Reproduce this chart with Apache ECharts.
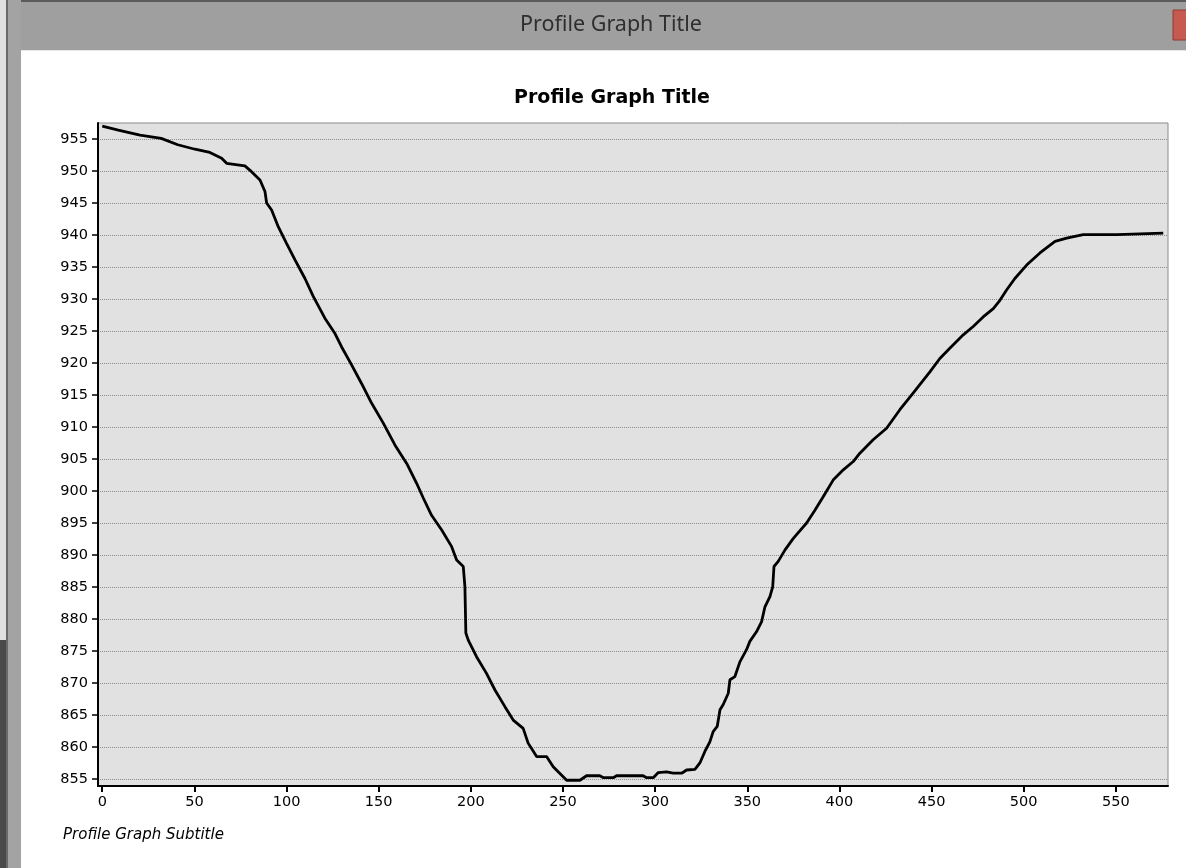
<!DOCTYPE html>
<html>
<head>
<meta charset="utf-8">
<title>Profile Graph Title</title>
<script src="https://cdn.jsdelivr.net/npm/echarts@6/dist/echarts.min.js"></script>
<style>
  html, body { margin: 0; padding: 0; background: #fff; }
  #chart { width: 1186px; height: 868px; }
</style>
</head>
<body>
<div id="chart"></div>
<script>
  // profile: distance along the line / elevation
  const distance = [
    0, 8.7, 20.5, 32, 41, 50.3, 58.4, 64.8, 67.5, 77.4, 81, 85.6, 88.3, 89.2, 91.9, 95.5,
    100, 104.6, 110, 114.5, 120.8, 126.3, 129.9, 135.3, 140.7, 146.2, 152.5, 158.8, 165.2,
    170.6, 174.2, 178.7, 184.2, 189.6, 192.3, 195.9, 196.8, 197.3, 198.6, 203.1, 208.5,
    213.1, 218.5, 223, 228.4, 231.1, 235.7, 241.1, 244.7, 252, 259.2, 262.8, 270, 272,
    277.3, 279.1, 293.5, 295.4, 299, 301.7, 306.2, 309.8, 314.4, 317.1, 321.6, 324.3, 327,
    329.7, 331.5, 333.7, 335.2, 336.9, 339.7, 340.6, 343.3, 346, 349.6, 351.4, 355, 357.8,
    359.6, 362.3, 363.8, 364.5, 366.8, 370.5, 375, 382.2, 386.7, 391.2, 396.6, 402.1, 407.5,
    411.1, 418.3, 425.6, 432.8, 440, 449.1, 454.5, 459.9, 467.2, 472.6, 478, 483.5, 487.1,
    490.7, 495.2, 501.6, 508.8, 517, 523.3, 532.3, 550.4, 551.3, 575.7
  ]
  const elevation = [
    957, 956.4, 955.6, 955.1, 954.1, 953.4, 952.9, 952, 951.2, 950.8, 949.9, 948.6, 946.8, 945, 943.9, 941.3,
    938.7, 936.1, 933.2, 930.4, 927, 924.6, 922.5, 919.7, 916.8, 913.7, 910.6, 907.2, 904.3,
    901.2, 898.9, 896.2, 893.9, 891.3, 889.2, 888.2, 885, 877.8, 876.7, 874.1, 871.5,
    868.9, 866.3, 864.2, 862.9, 860.6, 858.5, 858.5, 856.9, 854.8, 854.8, 855.5, 855.5, 855.2,
    855.2, 855.5, 855.5, 855.2, 855.2, 856, 856.1, 855.9, 855.9, 856.4, 856.5, 857.5, 859.3,
    860.8, 862.4, 863.2, 865.8, 866.6, 868.4, 870.5, 871, 873.3, 875.2, 876.5, 878, 879.6,
    881.9, 883.5, 885, 888.2, 889, 890.8, 892.6, 895, 897, 899.1, 901.7, 903.3, 904.6,
    905.9, 908, 909.8, 912.7, 915.3, 918.6, 920.7, 922.3, 924.4, 925.7, 927.2, 928.5, 929.8,
    931.4, 933.2, 935.3, 937.2, 939, 939.5, 940.05, 940.05, 940.3, 940.3
  ]
  const xTicks = [0, 50, 100, 150, 200, 250, 300, 350, 400, 450, 500, 550]
  const yTicks = [855, 860, 865, 870, 875, 880, 885, 890, 895, 900, 905, 910, 915, 920,
    925, 930, 935, 940, 945, 950, 955]
  const windowTitle = 'Profile Graph Title'
  const chartTitle = 'Profile Graph Title'
  const subTitle = 'Profile Graph Subtitle'

  const labelFont = 'DejaVu Sans'

  const chart = echarts.init(document.getElementById('chart'))
  const option = {
    animation: false,
    backgroundColor: '#fff',
    graphic: [
      // window chrome
      { type: 'rect', shape: { x: 0, y: 0, width: 1186, height: 51 }, style: { fill: '#9f9f9f' } },
      { type: 'rect', shape: { x: 0, y: 0, width: 1186, height: 2 }, style: { fill: '#5a5a5a' } },
      { type: 'rect', shape: { x: 0, y: 0, width: 21, height: 868 }, style: { fill: '#a3a3a3' } },
      { type: 'rect', shape: { x: 0, y: 0, width: 6, height: 868 }, style: { fill: '#e0e0e0' } },
      { type: 'rect', shape: { x: 0, y: 640, width: 6, height: 228 }, style: { fill: '#4a4a4a' } },
      { type: 'rect', shape: { x: 6, y: 0, width: 2, height: 868 }, style: { fill: '#6a6a6a' } },
      { type: 'rect', shape: { x: 21, y: 50, width: 1165, height: 1 }, style: { fill: '#e6e6e6' } },
      { type: 'rect', shape: { x: 1173, y: 10, width: 20, height: 30 }, style: { fill: '#c75a50', stroke: '#8e3b34', lineWidth: 1 } },
      {
        type: 'text',
        style: { text: windowTitle, x: 611, y: 25, textAlign: 'center', textVerticalAlign: 'middle',
          fontFamily: 'Noto Sans', fontSize: 21.5, fill: '#2e2e2e' }
      },
      {
        type: 'text',
        style: { text: chartTitle, x: 612, y: 98, textAlign: 'center', textVerticalAlign: 'middle',
          fontFamily: labelFont, fontWeight: 'bold', fontSize: 19, fill: '#000' }
      },
      {
        type: 'text',
        style: { text: subTitle, x: 63, y: 835, textAlign: 'left', textVerticalAlign: 'middle',
          fontFamily: labelFont, fontStyle: 'italic', fontSize: 15, fill: '#000' }
      }
    ],
    grid: {
      left: 98,
      top: 123,
      width: 1070,
      height: 663,
      containLabel: false,
      show: true,
      backgroundColor: '#e1e1e1',
      borderColor: '#8a8a8a',
      borderWidth: 1
    },
    xAxis: {
      type: 'value',
      min: -2.3,
      max: 578.3,
      axisLine: { show: true, onZero: false, lineStyle: { color: '#000', width: 2 } },
      axisTick: { show: true, customValues: xTicks, length: 6, lineStyle: { color: '#000', width: 2 } },
      axisLabel: { customValues: xTicks, margin: 9, color: '#000', fontFamily: labelFont, fontSize: 14.5 },
      splitLine: { show: false }
    },
    yAxis: {
      type: 'value',
      min: 853.9,
      max: 957.5,
      axisLine: { show: true, onZero: false, lineStyle: { color: '#000', width: 2 } },
      axisTick: { show: true, customValues: yTicks, length: 6, lineStyle: { color: '#000', width: 1.5 } },
      axisLabel: { customValues: yTicks, margin: 10, color: '#000', fontFamily: labelFont, fontSize: 14.5 },
      splitLine: { show: true, lineStyle: { color: '#8c8c8c', width: 1, type: [1, 1] } }
    },
    series: [
      {
        type: 'line',
        data: distance.map((d, i) => [d, elevation[i]]),
        showSymbol: false,
        lineStyle: { color: '#000', width: 2.8 },
        itemStyle: { color: '#000' }
      }
    ]
  }
  chart.setOption(option)
</script>
</body>
</html>
